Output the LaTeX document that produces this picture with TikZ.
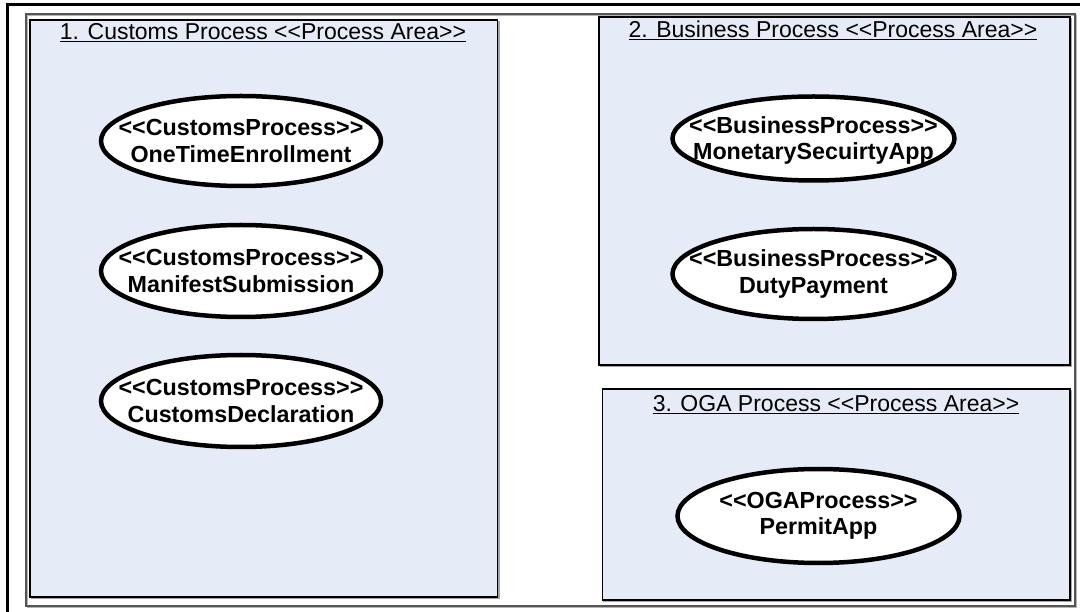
\documentclass[tikz,border=0pt]{standalone}
\usepackage{fontspec}
\setmainfont{Liberation Sans}[Ligatures=NoCommon]
\usetikzlibrary{shapes.geometric}
\definecolor{areafill}{HTML}{E6ECF7}
\definecolor{frameGray}{HTML}{555555}
\newcommand{\lt}{<\kern0pt<}
\newcommand{\gt}{>\kern0pt>}
\tikzset{
  area/.style={draw=black, line width=1.3pt, fill=areafill},
  areashadow/.style={draw=gray!70, line width=1.3pt},
  title/.style={font=\fontsize{23}{26}\selectfont, anchor=base, inner sep=0pt},
  proc/.style={ellipse, draw=black, line width=4.5pt, fill=white, inner sep=0pt,
    minimum width=280pt, minimum height=90pt},
  proctext/.style={align=center, inner sep=0pt,
    font=\fontsize{23.3}{26.5}\bfseries\selectfont},
}
\begin{document}
\begin{tikzpicture}[x=1pt,y=-1pt]
\useasboundingbox (0,0) rectangle (1080,612);
% thick frame (top and left)
\draw[line width=3pt, line cap=rect] (1082,5) -- (7,5) -- (7,614);
% thin outer frame
\draw[gray!60, line width=1.2pt] (27.5,15.5) rectangle (1076.5,607.5);
\draw[frameGray, line width=1.2pt] (26,14) rectangle (1075,606);
% areas
\draw[areashadow] (31.5,21.5) rectangle (499,598.5);
\draw[area] (30,20) rectangle (497.5,597);
\draw[areashadow] (600.5,18.5) rectangle (1071.5,366.5);
\draw[area] (599,17) rectangle (1070,365);
\draw[areashadow] (604,390.5) rectangle (1071.5,601.5);
\draw[area] (602.5,389) rectangle (1070,600);
% titles
\node[title] (t1) at (263,39.5) {\underline{1. Customs Process \lt Process Area\gt}};
\node[title] (t2) at (833,37.5) {\underline{2. Business Process \lt Process Area\gt}};
\node[title] (t3) at (836,411.5) {\underline{3. OGA Process \lt Process Area\gt}};
% processes
\node[proc, minimum height=90pt] (p1) at (241,141) {};
\node[proctext] (p1t) at (p1) {\lt CustomsProcess\gt\\OneTimeEnrollment};
\node[proc, minimum height=92pt] (p2) at (241,271) {};
\node[proctext] (p2t) at (p2) {\lt CustomsProcess\gt\\ManifestSubmission};
\node[proc, minimum height=92pt] (p3) at (241,401) {};
\node[proctext] (p3t) at (p3) {\lt CustomsProcess\gt\\CustomsDeclaration};
\node[proc, minimum width=282pt, minimum height=84pt] (p4) at (813.5,138.5) {};
\node[proctext] (p4t) at ([yshift=-2pt]p4) {\lt BusinessProcess\gt\\MonetarySecuirtyApp};
\node[proc, minimum width=282pt, minimum height=90pt] (p5) at (813.5,274) {};
\node[proctext] (p5t) at (p5) {\lt BusinessProcess\gt\\DutyPayment};
\node[proc, minimum width=282pt, minimum height=94pt] (p6) at (818.5,516) {};
\node[proctext] (p6t) at (p6) {\lt OGAProcess\gt\\PermitApp};
\end{tikzpicture}
\end{document}
